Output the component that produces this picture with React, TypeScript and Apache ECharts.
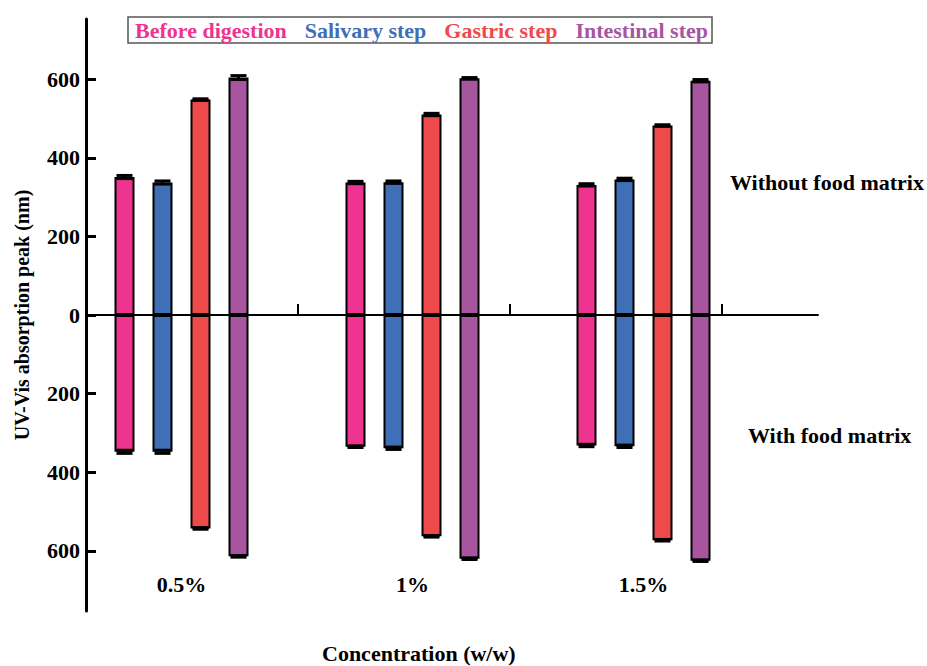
import React, { useEffect, useRef } from "react";
import * as echarts from "echarts";

const categories = ["0.5%", "1%", "1.5%"];
const stages = ["Before digestion", "Salivary step", "Gastric step", "Intestinal step"];
const stageColors = ["#EE3490", "#3F6FB6", "#EF4A4B", "#A855A0"];

// Without food matrix (upper half)
const beforeWithout = [351, 337, 331];
const salivaryWithout = [337, 338, 345];
const gastricWithout = [548, 510, 482];
const intestinalWithout = [604, 602, 596];

// With food matrix (lower half, drawn as negative)
const beforeWith = [-348, -335, -332];
const salivaryWith = [-348, -339, -334];
const gastricWith = [-543, -563, -573];
const intestinalWith = [-614, -620, -625];

// Error values
const beforeErrWithout = [4, 3, 3];
const salivaryErrWithout = [4, 3, 3];
const gastricErrWithout = [2, 3, 2];
const intestinalErrWithout = [5, 2, 3];
const beforeErrWith = [4, 2, 3];
const salivaryErrWith = [4, 3, 3];
const gastricErrWith = [2, 2, 2];
const intestinalErrWith = [2, 2, 2];

const yTicks = [-600, -400, -200, 0, 200, 400, 600];
const xTicks = [0, 1, 2, 3];
const yMin = -753;
const yMax = 753;

const FONT = "Liberation Serif";
const FS = 22;
const BAR_W = 20;
const BAR_GAP = 0.9;

export default function App() {
  const ref = useRef<HTMLDivElement>(null);
  useEffect(() => {
    if (!ref.current) return;
    const chart = echarts.init(ref.current, null, { renderer: "svg" });
    const ups = [beforeWithout, salivaryWithout, gastricWithout, intestinalWithout];
    const downs = [beforeWith, salivaryWith, gastricWith, intestinalWith];
    const errUps = [beforeErrWithout, salivaryErrWithout, gastricErrWithout, intestinalErrWithout];
    const errDowns = [beforeErrWith, salivaryErrWith, gastricErrWith, intestinalErrWith];
    const step = BAR_W * (1 + BAR_GAP);

    const series: any[] = [];
    stages.forEach((name, k) => {
      const common = {
        type: "bar",
        name,
        stack: "s" + k,
        xAxisIndex: 1,
        yAxisIndex: 1,
        barWidth: BAR_W,
        barGap: BAR_GAP * 100 + "%",
        itemStyle: { color: stageColors[k], borderColor: "#000", borderWidth: 2 },
      };
      series.push({ ...common, data: ups[k] });
      series.push({ ...common, data: downs[k] });
    });
    stages.forEach((name, k) => {
      const data: number[][] = [];
      categories.forEach((_, i) => {
        data.push([i, ups[k][i], errUps[k][i], k]);
        data.push([i, downs[k][i], errDowns[k][i], k]);
      });
      series.push({
        type: "custom",
        name: "err" + k,
        xAxisIndex: 1,
        yAxisIndex: 1,
        z: 10,
        data,
        renderItem: (params: any, api: any) => {
          const cat = api.value(0);
          const v = api.value(1);
          const e = api.value(2);
          const slot = api.value(3);
          const a = api.coord([cat, v + e]);
          const b = api.coord([cat, v - e]);
          const x = a[0] + (slot - 1.5) * step;
          const hw = 8;
          const st = { stroke: "#000", lineWidth: 3 };
          return {
            type: "group",
            children: [
              { type: "line", shape: { x1: x, y1: a[1], x2: x, y2: b[1] }, style: st },
              { type: "line", shape: { x1: x - hw, y1: a[1], x2: x + hw, y2: a[1] }, style: st },
              { type: "line", shape: { x1: x - hw, y1: b[1], x2: x + hw, y2: b[1] }, style: st },
            ],
          };
        },
      });
    });

    chart.setOption({
      animation: false,
      backgroundColor: "#fff",
      textStyle: { fontFamily: FONT },
      legend: {
        left: 128,
        top: 17,
        data: stages.map((n, k) => ({ name: n, textStyle: { color: stageColors[k] } })),
        icon: "rect",
        itemWidth: 0,
        itemHeight: 0,
        itemGap: 12,
        padding: [2, 4, 2, 1],
        borderColor: "#555",
        borderWidth: 1.5,
        textStyle: { fontFamily: FONT, fontWeight: "bold", fontSize: FS },
        selectedMode: false,
      },
      grid: [
        { left: 86, top: 19, width: 732, height: 592 },
        { left: 66, top: 19, width: 693, height: 592 },
      ],
      xAxis: [
        {
          type: "value",
          gridIndex: 0,
          min: 0,
          max: 732 / 212,
          interval: 1,
          axisLine: { show: true, onZero: true, lineStyle: { color: "#000", width: 2 } },
          axisTick: {
            show: true,
            inside: true,
            length: 11,
            customValues: xTicks,
            lineStyle: { color: "#000", width: 2 },
          },
          axisLabel: { show: false },
          splitLine: { show: false },
        },
        {
          type: "category",
          gridIndex: 1,
          data: categories,
          axisLine: { show: false },
          axisTick: { show: false },
          axisLabel: {
            inside: true,
            margin: 16,
            color: "#000",
            fontFamily: FONT,
            fontWeight: "bold",
            fontSize: FS,
          },
          splitLine: { show: false },
        },
      ],
      yAxis: [
        {
          type: "value",
          gridIndex: 0,
          min: yMin,
          max: yMax,
          axisLine: { show: true, onZero: false, lineStyle: { color: "#000", width: 3 } },
          axisTick: {
            show: true,
            inside: true,
            length: 10,
            customValues: yTicks,
            lineStyle: { color: "#000", width: 3 },
          },
          axisLabel: {
            customValues: yTicks,
            formatter: (v: number) => String(Math.abs(v)),
            color: "#000",
            fontFamily: FONT,
            fontWeight: "bold",
            fontSize: FS,
            margin: 6,
          },
          splitLine: { show: false },
          name: "UV-Vis absorption peak (nm)",
          nameLocation: "middle",
          nameGap: 54,
          nameTextStyle: { color: "#000", fontFamily: FONT, fontWeight: "bold", fontSize: 20 },
        },
        {
          type: "value",
          gridIndex: 1,
          min: yMin,
          max: yMax,
          show: false,
          splitLine: { show: false },
        },
      ],
      graphic: [
        {
          type: "text",
          left: 730,
          top: 171,
          style: { text: "Without food matrix", font: `bold ${FS}px "${FONT}"`, fill: "#000" },
        },
        {
          type: "text",
          left: 748,
          top: 424,
          style: { text: "With food matrix", font: `bold ${FS}px "${FONT}"`, fill: "#000" },
        },
        {
          type: "text",
          left: 322,
          top: 642,
          style: { text: "Concentration (w/w)", font: `bold ${FS}px "${FONT}"`, fill: "#000" },
        },
      ],
      series,
    });
    return () => chart.dispose();
  }, []);
  return (
    <div
      ref={ref}
      style={{ position: "absolute", left: 0, top: 0, width: 927, height: 666 }}
    />
  );
}
